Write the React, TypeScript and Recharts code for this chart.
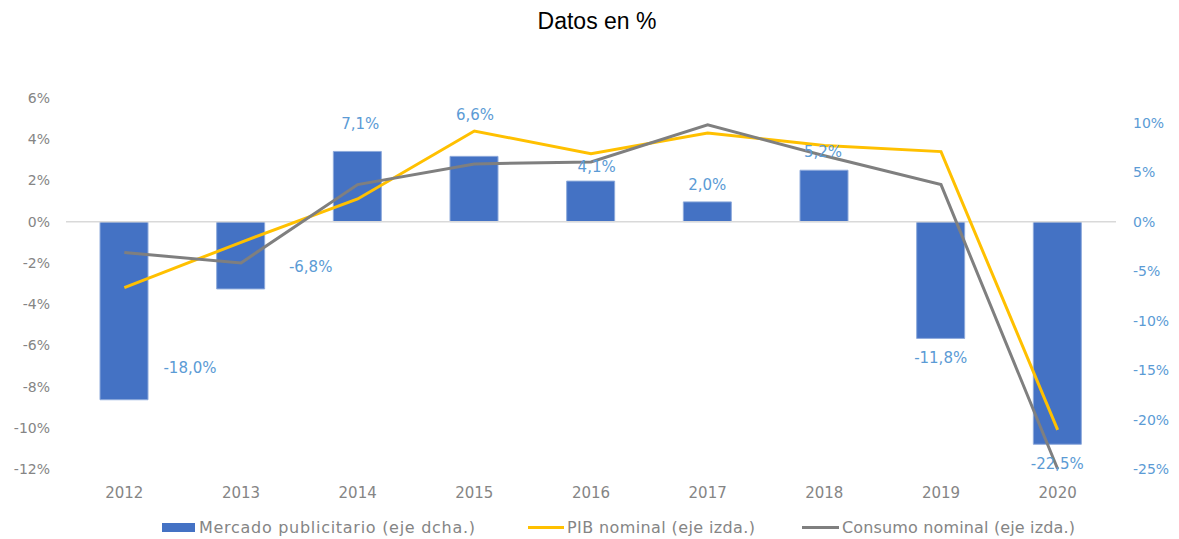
import React from 'react';
import { ComposedChart, Bar, Line, XAxis, YAxis, ReferenceLine, LabelList } from 'recharts';

const years = ['2012', '2013', '2014', '2015', '2016', '2017', '2018', '2019', '2020'];
const mercadoPublicitario = [-18.0, -6.8, 7.1, 6.6, 4.1, 2.0, 5.2, -11.8, -22.5];
const pibNominal = [-3.2, -1.0, 1.1, 4.4, 3.3, 4.3, 3.7, 3.4, -10.1];
const consumoNominal = [-1.5, -2.0, 1.8, 2.8, 2.9, 4.7, 3.2, 1.8, -12.0];
const leftTicks = [-12, -10, -8, -6, -4, -2, 0, 2, 4, 6];
const rightTicks = [-25, -20, -15, -10, -5, 0, 5, 10];
const seriesNames = ['Mercado publicitario (eje dcha.)', 'PIB nominal (eje izda.)', 'Consumo nominal (eje izda.)'];
const title = 'Datos en %';

const data = years.map((year, i) => ({
  year,
  mercado: mercadoPublicitario[i],
  pib: pibNominal[i],
  consumo: consumoNominal[i],
}));

// label placement (styling): dx, dy from bar end
const LABEL_OFFSETS: [number, number][] = [
  [66, -32], [70, -22], [3, -27], [1, -41], [6, -14], [0, -17], [-1, -18], [0, 20], [0, 20],
];

const BLUE_TEXT = '#5b9bd5';
const GRAY_TEXT = '#858585';
const FONT = '"DejaVu Sans", sans-serif';

const fmt = (v: number) => v.toFixed(1).replace('.', ',') + '%';

const renderLabel = (props: any) => {
  const vb = props.viewBox && props.viewBox.width !== undefined ? props.viewBox : props;
  const x = Number(vb.x);
  const y = Number(vb.y);
  const w = Number(vb.width);
  const h = Number(vb.height);
  const value = Number(props.value);
  const index = props.index ?? 0;
  const top = Math.min(y, y + h);
  const bottom = Math.max(y, y + h);
  const anchor = value >= 0 ? top : bottom;
  const [dx, dy] = LABEL_OFFSETS[index] || [0, 0];
  return (
    <text
      key={`lbl-${index}`}
      x={x + w / 2 + dx}
      y={anchor + dy}
      textAnchor="middle"
      dominantBaseline="central"
      fill={BLUE_TEXT}
      fontSize={15}
      fontFamily={FONT}
    >
      {fmt(value)}
    </text>
  );
};

export default function App() {
  return (
    <div style={{ position: 'absolute', left: 0, top: 0, width: 1179, height: 539, background: '#fff' }}>
      <ComposedChart
        width={1179}
        height={539}
        data={data}
        margin={{ top: 98, right: 0, bottom: 40, left: 0 }}
      >
        <XAxis
          dataKey="year"
          axisLine={false}
          tickLine={false}
          height={30}
          tickMargin={12}
          tick={{ fill: GRAY_TEXT, fontSize: 15, fontFamily: FONT }}
        />
        <YAxis
          yAxisId="left"
          orientation="left"
          width={66}
          domain={[-12, 6]}
          ticks={leftTicks}
          interval={0}
          axisLine={false}
          tickLine={false}
          tickMargin={10}
          tickFormatter={(v: number) => `${v}%`}
          tick={{ fill: GRAY_TEXT, fontSize: 14, fontFamily: FONT }}
        />
        <YAxis
          yAxisId="right"
          orientation="right"
          width={63}
          domain={[-25, 12.5]}
          ticks={rightTicks}
          interval={0}
          axisLine={false}
          tickLine={false}
          tickMargin={11}
          tickFormatter={(v: number) => `${v}%`}
          tick={{ fill: BLUE_TEXT, fontSize: 14, fontFamily: FONT }}
        />
        <ReferenceLine yAxisId="left" y={0} stroke="#d9d9d9" strokeWidth={1.5} />
        <Bar
          yAxisId="right"
          dataKey="mercado"
          name={seriesNames[0]}
          fill="#4472c4"
          stroke="#8eaadb"
          strokeWidth={1}
          barSize={48}
          isAnimationActive={false}
        >
          <LabelList dataKey="mercado" content={renderLabel} />
        </Bar>
        <Line
          yAxisId="left"
          dataKey="pib"
          name={seriesNames[1]}
          stroke="#ffc000"
          strokeWidth={3}
          dot={false}
          activeDot={false}
          isAnimationActive={false}
        />
        <Line
          yAxisId="left"
          dataKey="consumo"
          name={seriesNames[2]}
          stroke="#7f7f7f"
          strokeWidth={3}
          dot={false}
          activeDot={false}
          isAnimationActive={false}
        />
      </ComposedChart>
      <svg
        width={1179}
        height={539}
        style={{ position: 'absolute', left: 0, top: 0, pointerEvents: 'none' }}
      >
        <text x={597} y={28.5} textAnchor="middle" fontSize={23} fontFamily='"Liberation Sans", Arial, sans-serif' fill="#000">
          {title}
        </text>
        <rect x={162} y={523} width={33} height={9} fill="#4472c4" />
        <text x={199} y={533} fontSize={16} fontFamily={FONT} fill={GRAY_TEXT} textLength={276} lengthAdjust="spacing">
          {seriesNames[0]}
        </text>
        <line x1={528} x2={564} y1={527.5} y2={527.5} stroke="#ffc000" strokeWidth={3} />
        <text x={567} y={533} fontSize={16} fontFamily={FONT} fill={GRAY_TEXT} textLength={188} lengthAdjust="spacing">
          {seriesNames[1]}
        </text>
        <line x1={802} x2={839} y1={527.5} y2={527.5} stroke="#7f7f7f" strokeWidth={3} />
        <text x={842} y={533} fontSize={16} fontFamily={FONT} fill={GRAY_TEXT} textLength={233} lengthAdjust="spacing">
          {seriesNames[2]}
        </text>
      </svg>
    </div>
  );
}
